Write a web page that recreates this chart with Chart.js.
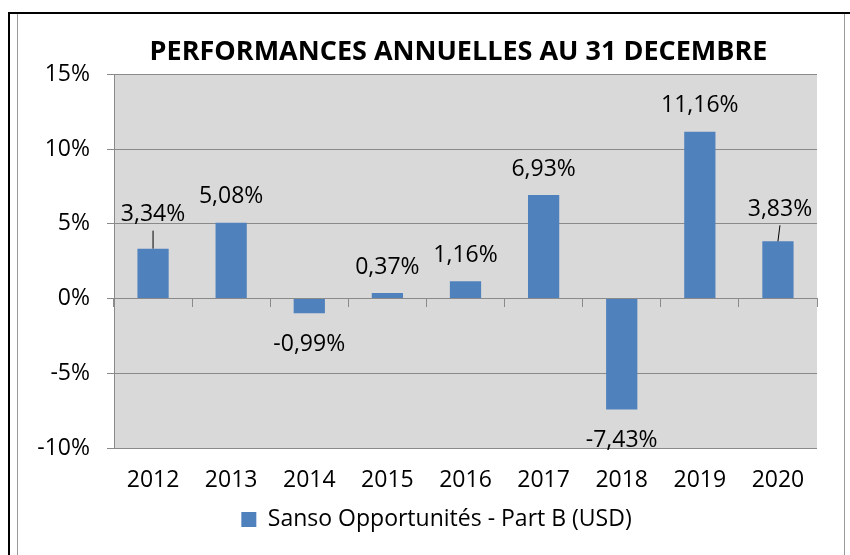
<!DOCTYPE html>
<html>
<head>
<meta charset="utf-8">
<script src="https://cdn.jsdelivr.net/npm/chart.js@4/dist/chart.umd.min.js"></script>
<style>
    html, body { margin: 0; padding: 0; background: #fff; }
    #wrap { position: relative; width: 850px; height: 555px; }
    #frame { position: absolute; left: 8px; top: 12px; width: 842px; height: 543px;
             border-left: 2px solid #000; border-top: 2px solid #000; box-sizing: border-box; }
    #inner { position: absolute; left: 17px; top: 14px; width: 828px; height: 541px;
             border-left: 1px solid #9a9a9a; border-right: 1px solid #9a9a9a; box-sizing: border-box; }
    canvas { position: absolute; left: 0; top: 0; }
</style>
</head>
<body>
<div id="wrap">
    <div id="frame"></div>
    <div id="inner"></div>
    <canvas id="perfChart" width="850" height="555"></canvas>
</div>
<script>
var years = ['2012', '2013', '2014', '2015', '2016', '2017', '2018', '2019', '2020'];
var perf = [3.34, 5.08, -0.99, 0.37, 1.16, 6.93, -7.43, 11.16, 3.83];
var yMin = -10;
var yMax = 15;
var yStep = 5;
var seriesName = 'Sanso Opportunités - Part B (USD)';
var chartTitle = 'PERFORMANCES ANNUELLES AU 31 DECEMBRE';

var fontFamily = '"Open Sans", sans-serif';
var axisGray = '#8a8a8a';

// labels pushed away from their bar, with a small leader line
var movedLabels = {0: {dx: 0, dy: -8}, 8: {dx: 2, dy: -6}};

function fmt(v) {
    "use strict";
    return v.toFixed(2).replace('.', ',') + '%';
}

var plotBackground = {
    id: 'plotBackground',
    afterLayout: function (chart) {
        // title and legend sit a bit right of the canvas centre
        chart.titleBlock.left += 40;
        chart.titleBlock.right += 40;
        chart.legend.left += 18;
        chart.legend.right += 18;
    },
    beforeDraw: function (chart) {
        var a = chart.chartArea;
        var ctx = chart.ctx;
        ctx.save();
        ctx.fillStyle = '#d9d9d9';
        ctx.fillRect(a.left, a.top, a.right - a.left, a.bottom - a.top);
        ctx.restore();
    }
};

var valueLabels = {
    id: 'valueLabels',
    afterDatasetsDraw: function (chart) {
        var ctx = chart.ctx;
        var meta = chart.getDatasetMeta(0);
        ctx.save();
        ctx.font = '23px ' + fontFamily;
        ctx.fillStyle = '#000';
        ctx.textAlign = 'center';
        ctx.textBaseline = 'middle';
        meta.data.forEach(function (bar, i) {
            var v = perf[i];
            var x = bar.x;
            var y;
            if (v >= 0) {
                y = bar.y - 26;
            } else {
                y = bar.y + 31;
            }
            var moved = movedLabels[i];
            if (moved) {
                ctx.fillText(fmt(v), x + moved.dx, y + moved.dy);
                ctx.beginPath();
                ctx.strokeStyle = '#000';
                ctx.lineWidth = 1;
                ctx.moveTo(x + moved.dx, y + moved.dy + 16);
                ctx.lineTo(x, bar.y);
                ctx.stroke();
            } else {
                ctx.fillText(fmt(v), x, y);
            }
        });
        ctx.restore();
    }
};

var ctx = document.getElementById('perfChart').getContext('2d');
var chart = new Chart(ctx, {
    type: 'bar',
    data: {
        labels: years,
        datasets: [{
            label: seriesName,
            data: perf,
            backgroundColor: '#4f81bd',
            borderWidth: 0,
            categoryPercentage: 0.8,
            barPercentage: 0.5
        }]
    },
    options: {
        responsive: false,
        animation: false,
        layout: {padding: {left: 20, right: 33, top: 0, bottom: 14}},
        plugins: {
            title: {
                display: true,
                text: chartTitle,
                color: '#000',
                font: {family: fontFamily, size: 27, weight: 'bold'},
                padding: {top: 36, bottom: 6}
            },
            legend: {
                position: 'bottom',
                labels: {
                    color: '#000',
                    font: {family: fontFamily, size: 23},
                    boxWidth: 15,
                    boxHeight: 15,
                    padding: 6
                }
            },
            tooltip: {enabled: false}
        },
        scales: {
            x: {
                grid: {display: false},
                border: {display: false},
                ticks: {color: '#000', font: {family: fontFamily, size: 23}, padding: 11},
                afterFit: function (scale) { scale.height = 54; }
            },
            x2: {
                type: 'category',
                labels: years,
                position: {y: 0},
                offset: true,
                ticks: {display: false},
                grid: {offset: true, drawOnChartArea: false, tickLength: 8, color: axisGray},
                border: {color: axisGray, width: 1}
            },
            y: {
                min: yMin,
                max: yMax,
                ticks: {
                    stepSize: yStep,
                    color: '#000',
                    font: {family: fontFamily, size: 23},
                    padding: 17,
                    callback: function (v) { return v + '%'; }
                },
                grid: {color: axisGray, tickLength: 7},
                border: {color: axisGray},
                afterFit: function (scale) { scale.width = 94; }
            }
        }
    },
    plugins: [plotBackground, valueLabels]
});
</script>
</body>
</html>
